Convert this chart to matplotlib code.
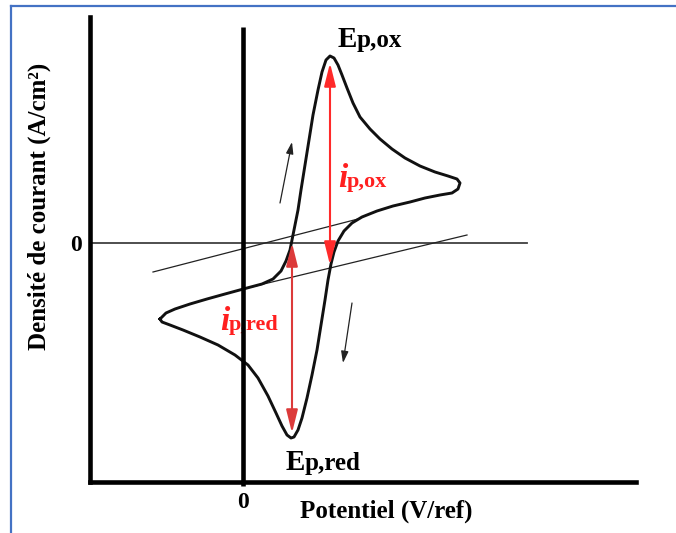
import matplotlib
matplotlib.use("Agg")
import matplotlib.pyplot as plt
from matplotlib.patches import FancyArrowPatch
from matplotlib.lines import Line2D

plt.rcParams['font.family'] = 'Liberation Serif'
plt.rcParams['font.weight'] = 'bold'

# === Voltammogramme cyclique schematique (unites arbitraires) ===

# balayage aller (oxydation) : de la queue gauche jusqu'au point de retour
E_aller = [-0.83, -0.77, -0.68, -0.53, -0.36, -0.18, 0.04, 0.19, 0.30, 0.38,
           0.43, 0.47, 0.49, 0.52, 0.55, 0.58, 0.62, 0.66, 0.70, 0.75,
           0.79, 0.83, 0.87, 0.91, 0.95, 0.99, 1.04, 1.10, 1.17, 1.27,
           1.37, 1.49, 1.62, 1.77, 1.92, 2.05, 2.14, 2.17]
j_aller = [-0.76, -0.70, -0.66, -0.61, -0.56, -0.51, -0.45, -0.41, -0.36, -0.28,
           -0.18, -0.07, 0.03, 0.18, 0.33, 0.53, 0.78, 1.03, 1.28, 1.53,
           1.71, 1.83, 1.87, 1.85, 1.78, 1.68, 1.55, 1.40, 1.26, 1.14,
           1.04, 0.94, 0.85, 0.77, 0.71, 0.67, 0.64, 0.60]

# balayage retour (reduction)
E_retour = [2.17, 2.15, 2.09, 1.97, 1.82, 1.67, 1.50, 1.34, 1.19, 1.09,
            1.01, 0.95, 0.91, 0.88, 0.85, 0.82, 0.78, 0.74, 0.69, 0.64,
            0.59, 0.55, 0.51, 0.48, 0.44, 0.39, 0.33, 0.25, 0.15, 0.05,
            -0.08, -0.25, -0.43, -0.60, -0.73, -0.81, -0.83]
j_retour = [0.60, 0.54, 0.50, 0.48, 0.45, 0.41, 0.37, 0.32, 0.26, 0.20,
            0.12, 0.02, -0.09, -0.21, -0.37, -0.57, -0.82, -1.07, -1.32, -1.55,
            -1.75, -1.87, -1.94, -1.95, -1.92, -1.83, -1.70, -1.53, -1.35, -1.22,
            -1.12, -1.02, -0.94, -0.87, -0.82, -0.79, -0.76]

# lignes de base (extrapolation du courant capacitif)
base_sup_E = [-0.90, 1.15]
base_sup_j = [-0.29, 0.24]
base_inf_E = [0.00, 2.24]
base_inf_j = [-0.46, 0.08]

# pics
E_pox, j_pox_bas, j_pox_haut = 0.87, -0.22, 1.80
E_pred, j_pred_haut, j_pred_bas = 0.49, 0.00, -1.90

# sens du balayage
fleche_aller = [(0.37, 0.40), (0.49, 1.01)]
fleche_retour = [(1.09, -0.60), (1.00, -1.20)]

xmin, xmax = -1.53, 3.93
ymin, ymax = -2.39, 2.26

fig = plt.figure(figsize=(6.76, 5.33), dpi=100)
ax = fig.add_axes([90 / 676, 51 / 533, 546 / 676, 465 / 533])
ax.set_xlim(xmin, xmax)
ax.set_ylim(ymin, ymax)

for s in ['top', 'right']:
    ax.spines[s].set_visible(False)
for s in ['left', 'bottom']:
    ax.spines[s].set_linewidth(3.3)

ax.set_xticks([0])
ax.set_xticklabels(['0'])
ax.set_yticks([0])
ax.set_yticklabels(['0'])
ax.tick_params(axis='x', length=3, width=3.3, pad=4, labelsize=17)
ax.tick_params(axis='y', length=0, pad=6, labelsize=17)

ax.set_xlabel('Potentiel (V/ref)', fontsize=18, fontweight='bold')
ax.xaxis.set_label_coords((386 - 90) / 546, -0.038)
ax.set_ylabel('Densité de courant (A/cm²)', fontsize=18, fontweight='bold')
ax.yaxis.set_label_coords(-0.071, 0.592)

# axes a zero
ax.plot([xmin, 2.84], [0, 0], color='#404040', lw=1.3, zorder=2)
ax.plot([0, 0], [ymin, 2.16], color='black', lw=3.3, zorder=4, solid_capstyle='butt')

# courbe
ax.plot(E_aller + E_retour, j_aller + j_retour, color='#111111', lw=2.1,
        solid_joinstyle='round', zorder=3)

ax.plot(base_sup_E, base_sup_j, color='#222222', lw=0.9, zorder=2)
ax.plot(base_inf_E, base_inf_j, color='#222222', lw=0.9, zorder=2)

# courants de pic
ax.add_patch(FancyArrowPatch((E_pox, j_pox_bas), (E_pox, j_pox_haut),
                             arrowstyle='<|-|>,head_length=1.4,head_width=0.35',
                             mutation_scale=10, color='#ff2a2a', lw=1.5,
                             shrinkA=0, shrinkB=0, zorder=3))
ax.add_patch(FancyArrowPatch((E_pred, j_pred_haut), (E_pred, j_pred_bas),
                             arrowstyle='<|-|>,head_length=1.4,head_width=0.35',
                             mutation_scale=10, color='#dc3a3a', lw=1.5,
                             shrinkA=0, shrinkB=0, zorder=3))

for (a, b) in [fleche_aller, fleche_retour]:
    ax.add_patch(FancyArrowPatch(a, b, arrowstyle='-|>,head_length=0.7,head_width=0.22',
                                 mutation_scale=10, color='#222222', lw=0.9,
                                 shrinkA=0, shrinkB=0, zorder=3))


def etiquette(x, y, lettre, indice, couleur, t1, t2, italique=False):
    ax.text(x, y, lettre, ha='right', va='baseline', fontsize=t1, color=couleur,
            style='italic' if italique else 'normal', fontweight='bold', zorder=3)
    ax.text(x, y, indice, ha='left', va='baseline', fontsize=t2, color=couleur,
            fontweight='bold', zorder=3)


etiquette(1.14, 1.96, 'E', 'p,ox', 'black', 21, 18)
etiquette(0.62, -2.27, 'E', 'p,red', 'black', 21, 18)
etiquette(1.04, 0.56, 'i', 'p,ox', '#ff1f1f', 24, 16, italique=True)
etiquette(-0.14, -0.87, 'i', 'p,red', '#ff1f1f', 24, 16, italique=True)

# cadre bleu
fig.add_artist(Line2D([11 / 676, 11 / 676], [0, 1 - 6 / 533], color='#4472c4', lw=1.6))
fig.add_artist(Line2D([11 / 676, 1], [1 - 6 / 533, 1 - 6 / 533], color='#4472c4', lw=1.6))

fig.savefig('out.png', dpi=100)
